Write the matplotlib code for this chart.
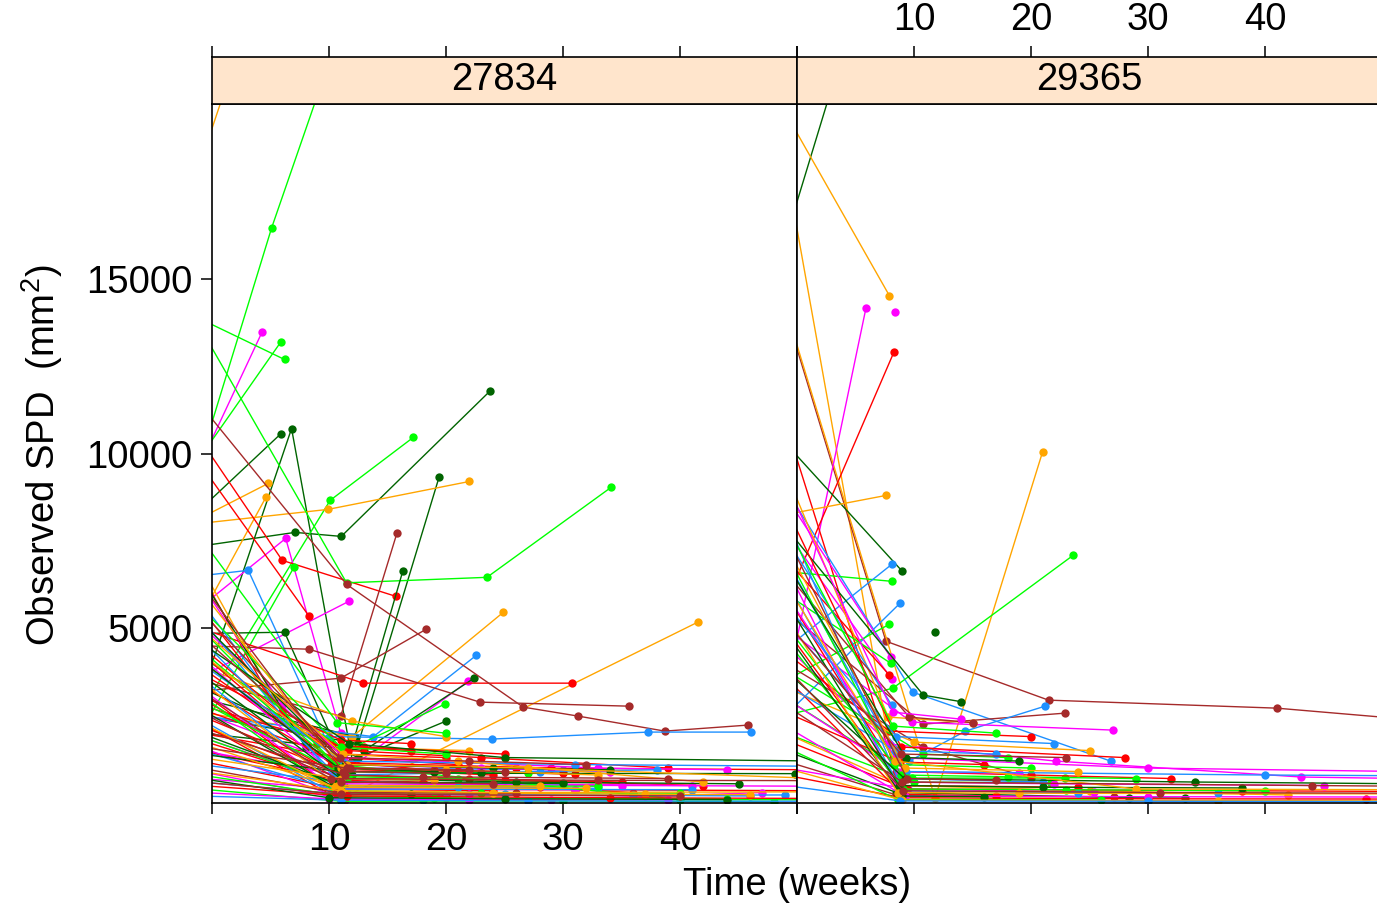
import matplotlib.pyplot as plt

plt.rcParams["font.family"] = ["Liberation Sans", "DejaVu Sans"]
plt.rcParams["mathtext.fontset"] = "custom"
plt.rcParams["mathtext.rm"] = "Liberation Sans"

# subject colours, cycled by subject in the trellis
PALETTE = {"g": "#00FF00", "d": "#006400", "o": "#FFA500", "m": "#FF00FF",
           "r": "#FF0000", "b": "#A52A2A", "u": "#1E90FF"}

SITES = ["27834", "29365"]

# (colour, [(week, SPD mm^2), ...]) per subject; baseline is at week -1
site_27834 = [
    ("g", [(-1, 9800), (5.1, 16460), (10, 21200)]),
    ("o", [(-1, 18300), (4, 23300)]),
    ("m", [(-1, 9700), (4.3, 13490)]),
    ("g", [(-1, 9900), (5.9, 13200)]),
    ("g", [(-1, 13850), (6.2, 12690)]),
    ("d", [(-1, 8400), (5.9, 10570)]),
    ("d", [(-1, 3000), (6.8, 10714), (12, 1200)]),
    ("d", [(-1, 7350), (7.1, 7743), (11.05, 7628), (23.8, 11800)]),
    ("d", [(-1, 2500), (12.5, 1700), (19.4, 9314)]),
    ("g", [(-1, 2600), (10.1, 8660), (17.2, 10460)]),
    ("o", [(-1, 8000), (9.9, 8400), (22.0, 9200)]),
    ("o", [(-1, 8150), (4.8, 9143)]),
    ("o", [(-1, 5300), (4.6, 8743)]),
    ("m", [(-1, 5600), (6.3, 7571), (11, 2000)]),
    ("m", [(-1, 3600), (11.7, 5771)]),
    ("u", [(-1, 6500), (3.1, 6657), (11, 900)]),
    ("r", [(-1, 10400), (6.0, 6943), (15.7, 5914)]),
    ("r", [(-1, 9700), (8.3, 5343)]),
    ("g", [(-1, 2000), (7.0, 6743)]),
    ("g", [(-1, 13600), (11.5, 6300), (23.5, 6457), (34.1, 9029)]),
    ("d", [(-1, 4850), (6.2, 4886), (11, 1300)]),
    ("d", [(-1, 3000), (12.2, 1900), (16.3, 6628)]),
    ("o", [(-1, 2600), (12.0, 1900), (24.9, 5457)]),
    ("o", [(-1, 2300), (11.5, 200), (41.5, 5171)]),
    ("u", [(-1, 2500), (13.8, 1900), (22.6, 4229)]),
    ("m", [(-1, 1500), (11, 800), (21.9, 3486)]),
    ("d", [(-1, 2000), (13, 1500), (22.4, 3571)]),
    ("r", [(-1, 5000), (12.9, 3429), (30.8, 3429)]),
    ("b", [(-1, 11400), (11.5, 6257), (26.6, 2743), (31.3, 2486), (38.7, 2057), (45.8, 2229)]),
    ("b", [(-1, 4500), (8.3, 4400), (22.9, 2886), (35.6, 2771)]),
    ("b", [(-1, 3200), (11.0, 3571), (18.3, 4971)]),
    ("b", [(-1, 3500), (11.0, 2486), (15.8, 7714)]),
    ("u", [(-1, 2500), (10, 1900), (23.9, 1829), (37.3, 2029), (46.1, 2029)]),
    ("g", [(-1, 4200), (11.5, 1500), (19.9, 2829)]),
    ("d", [(-1, 3300), (12.5, 1300), (20.0, 2343)]),
    ("o", [(-1, 3900), (12.0, 2343), (20, 1900)]),
    ("r", [(-1, 6600), (5, 3000), (11, 1400), (20, 1300)]),
    ("m", [(-1, 6300), (6, 2800), (11.5, 900)]),
    ("u", [(-1, 5800), (7, 2200), (12, 1000), (30, 950)]),
    ("o", [(-1, 6800), (6.5, 2300), (11, 1600), (22, 1500)]),
    ("d", [(-1, 6500), (8, 1600), (12, 800)]),
    ("r", [(-1, 5600), (6, 2600), (11, 1800), (17, 1700)]),
    ("g", [(-1, 7600), (10.7, 2300), (20, 2000)]),
    ("r", [(-1, 4500), (9, 1700), (13, 1600), (25, 1400)]),
    ("r", [(-1, 3900), (10.5, 1200), (20, 900), (30, 850)]),
    ("r", [(-1, 3400), (11, 1000), (24, 800)]),
    ("r", [(-1, 3000), (10.8, 800), (22, 700), (35, 600)]),
    ("r", [(-1, 2800), (11.2, 1600), (17, 1500)]),
    ("r", [(-1, 2500), (10.6, 900), (19, 950), (31, 820)]),
    ("r", [(-1, 2200), (11, 700), (25, 650), (42, 500)]),
    ("r", [(-1, 2000), (10.9, 1300), (21, 1100)]),
    ("r", [(-1, 1800), (11.3, 500), (28, 450)]),
    ("r", [(-1, 1500), (10.7, 650), (18, 600), (36, 300)]),
    ("r", [(-1, 1200), (11, 400), (24, 350)]),
    ("r", [(-1, 4300), (10.2, 1100), (26, 1000), (52, 950)]),
    ("r", [(-1, 3700), (11.6, 1500), (23, 1300), (39, 1000)]),
    ("r", [(-1, 3200), (10.4, 400), (31, 380), (52, 350)]),
    ("r", [(-1, 2700), (11.8, 1150), (29, 1000)]),
    ("r", [(-1, 2300), (10.1, 250), (20, 220)]),
    ("m", [(-1, 4200), (11.2, 600), (26, 550), (41, 500)]),
    ("m", [(-1, 3300), (10.9, 300), (22, 250), (37, 200)]),
    ("m", [(-1, 2600), (11, 1100), (23, 1000), (34, 900)]),
    ("m", [(-1, 1600), (10.5, 200), (20, 150)]),
    ("m", [(-1, 900), (11.4, 100), (29, 80), (47, 300)]),
    ("m", [(-1, 700), (11, 400), (31, 380)]),
    ("m", [(-1, 5100), (11.3, 1300), (33, 1000), (44, 950)]),
    ("m", [(-1, 1900), (10.8, 550), (35, 500), (52, 480)]),
    ("u", [(-1, 5300), (11, 500), (21, 450), (33, 420)]),
    ("u", [(-1, 4700), (10.6, 800), (28, 900), (38, 950)]),
    ("u", [(-1, 3600), (11.5, 300), (25, 250), (46, 200)]),
    ("u", [(-1, 2400), (11, 150), (18, 100)]),
    ("u", [(-1, 1100), (10.8, 600), (30, 550)]),
    ("u", [(-1, 600), (11.2, 250), (36, 220), (49, 230)]),
    ("u", [(-1, 4000), (11.1, 1200), (31, 1100), (52, 1050)]),
    ("u", [(-1, 1500), (10.3, 400), (41, 380)]),
    ("g", [(-1, 5600), (11, 1600), (20, 1400)]),
    ("g", [(-1, 4400), (11.3, 900), (27, 850)]),
    ("g", [(-1, 3100), (10.4, 350), (23, 300), (40, 280)]),
    ("g", [(-1, 1900), (11, 500), (33, 480)]),
    ("g", [(-1, 800), (11.1, 200), (19, 150), (44, 120)]),
    ("g", [(-1, 5000), (10.6, 1100), (40, 100), (52, 90)]),
    ("g", [(-1, 2900), (11.6, 750), (21, 700)]),
    ("d", [(-1, 5200), (11.4, 1100), (24, 1000), (34, 950)]),
    ("d", [(-1, 4100), (10.8, 1000), (19, 900)]),
    ("d", [(-1, 3700), (11, 700), (26, 600), (45, 550)]),
    ("d", [(-1, 2700), (11.2, 300), (17, 250)]),
    ("d", [(-1, 1400), (10.9, 900), (23, 850), (49.8, 840)]),
    ("d", [(-1, 4600), (11.7, 1700), (25, 1300), (52, 1200)]),
    ("d", [(-1, 2000), (10.3, 600), (30, 560)]),
    ("o", [(-1, 6100), (11, 1000), (20, 950), (33, 800)]),
    ("o", [(-1, 5000), (11.2, 1400), (21, 1200), (42, 600)]),
    ("o", [(-1, 3500), (10.7, 500), (28, 480)]),
    ("o", [(-1, 2300), (11.3, 300), (37, 250), (46, 240)]),
    ("o", [(-1, 1300), (11, 700), (19, 650)]),
    ("o", [(-1, 4300), (11.5, 1100), (27, 1000), (52, 700)]),
    ("o", [(-1, 1700), (10.5, 450), (32, 420)]),
    ("b", [(-1, 6300), (11.2, 900), (20, 850)]),
    ("b", [(-1, 4800), (10.9, 1300), (22, 1200), (32, 1100)]),
    ("b", [(-1, 3200), (11, 600), (24, 550)]),
    ("b", [(-1, 2100), (11.4, 800), (18, 750), (39, 700)]),
    ("b", [(-1, 1000), (10.6, 300), (26, 280)]),
    ("b", [(-1, 5500), (11.8, 1000), (22, 950)]),
    ("b", [(-1, 2600), (10.2, 700), (33, 650), (52, 640)]),
    ("b", [(-1, 1600), (11.5, 1000), (25, 900)]),
    ("g", [(-1, 400), (11, 50), (30, 60), (48, 40)]),
    ("m", [(-1, 300), (10, 120), (22, 100), (39, 90)]),
    ("u", [(-1, 200), (11, 80), (27, 60), (52, 50)]),
    ("r", [(-1, 500), (11.5, 200), (34, 150), (52, 130)]),
    ("d", [(-1, 700), (10, 150), (25, 120), (44, 100)]),
    ("o", [(-1, 900), (11, 350), (24, 300), (52, 320)]),
    ("b", [(-1, 600), (11, 250), (40, 200)]),
]

site_29365 = [
    ("d", [(-1, 16100), (4, 21600)]),
    ("o", [(-1, 19760), (7.9, 14514)]),
    ("o", [(-1, 18300), (8.7, 150)]),
    ("b", [(-1, 14100), (7.6, 4629), (21.5, 2943), (41, 2714), (52, 2400)]),
    ("o", [(-1, 14200), (11.8, 140), (21, 10057)]),
    ("m", [(-1, 3100), (5.9, 14170)]),
    ("m", [(8.4, 14057)]),
    ("r", [(-1, 5700), (8.3, 12914)]),
    ("r", [(-1, 10900), (8.5, 800)]),
    ("d", [(-1, 10300), (9.0, 6629)]),
    ("o", [(-1, 8250), (7.6, 8800)]),
    ("u", [(-1, 9000), (9.9, 3171), (26.8, 1200)]),
    ("g", [(-1, 6620), (8.1, 6343)]),
    ("u", [(-1, 4400), (8.1, 6829)]),
    ("u", [(-1, 2500), (8.8, 5714)]),
    ("d", [(11.8, 4886)]),
    ("g", [(-1, 3500), (7.9, 5114)]),
    ("g", [(-1, 2500), (8.2, 3286), (23.6, 7086)]),
    ("b", [(-1, 5500), (10.8, 2257), (22.9, 2571)]),
    ("b", [(-1, 4000), (10.8, 1600), (20, 714)]),
    ("u", [(-1, 5200), (9.6, 1200), (14.4, 2057), (21.2, 2771)]),
    ("m", [(-1, 5000), (9.8, 2314), (27, 2086)]),
    ("m", [(-1, 4500), (7.9, 1686), (22.1, 1200), (43.1, 743), (52, 700)]),
    ("g", [(-1, 3000), (9.8, 714), (22.9, 714)]),
    ("g", [(-1, 2000), (10, 600), (21.7, 571)]),
    ("o", [(-1, 2000), (9, 500), (25, 350), (42, 229)]),
    ("d", [(-1, 1500), (8.5, 300), (28.4, 150), (33.2, 140)]),
    ("b", [(-1, 1200), (8.8, 200), (27.1, 180)]),
    ("r", [(-1, 800), (9, 150), (30, 120), (48.6, 114), (52, 110)]),
    ("m", [(-1, 1000), (9.5, 400), (25.4, 314)]),
    ("m", [(-1, 8800), (8.0, 4171)]),
    ("m", [(-1, 7800), (8.1, 3543)]),
    ("r", [(-1, 7000), (7.9, 3657)]),
    ("r", [(-1, 4300), (7.9, 2057), (20, 1900)]),
    ("r", [(-1, 2600), (8.8, 1171), (16, 1100)]),
    ("o", [(-1, 9500), (7.8, 2457), (15, 2300)]),
    ("u", [(-1, 7600), (8.1, 2800)]),
    ("g", [(-1, 6000), (8.0, 4000)]),
    ("b", [(-1, 6600), (9.6, 2457), (15, 2300)]),
    ("g", [(-1, 3800), (10.8, 1400), (18, 1300)]),
    ("o", [(-1, 3300), (10, 1743), (25, 1500)]),
    ("d", [(-1, 7900), (10.8, 3086), (14, 2900)]),
    ("r", [(-1, 6000), (8.5, 900), (20, 800), (32, 700)]),
    ("r", [(-1, 5000), (8.8, 500), (24, 450)]),
    ("r", [(-1, 3600), (9, 250), (17, 200)]),
    ("r", [(-1, 8500), (8.9, 1600), (28, 1300)]),
    ("r", [(-1, 1800), (9.4, 400), (38, 350), (52, 330)]),
    ("m", [(-1, 6800), (8.3, 600), (22, 550), (45, 500)]),
    ("m", [(-1, 3000), (8.7, 900), (19, 850)]),
    ("m", [(-1, 2200), (9.2, 200), (30, 180), (52, 170)]),
    ("m", [(-1, 6000), (8.4, 1300), (30, 1000), (52, 900)]),
    ("m", [(-1, 9200), (8.2, 2600), (14, 2400)]),
    ("u", [(-1, 8200), (8.6, 700), (21, 600)]),
    ("u", [(-1, 6400), (9, 350), (24, 300), (36, 280)]),
    ("u", [(-1, 3400), (8.4, 1500), (17, 1400)]),
    ("u", [(-1, 5700), (8.5, 1900), (22, 1700)]),
    ("u", [(-1, 7000), (9.3, 900), (40, 800), (52, 780)]),
    ("g", [(-1, 7200), (8.9, 800), (18, 750), (29, 700)]),
    ("g", [(-1, 5100), (8.3, 1100), (20, 1000)]),
    ("g", [(-1, 4700), (9.1, 400), (23, 380), (40, 350)]),
    ("g", [(-1, 1600), (8.6, 100), (26, 90)]),
    ("g", [(-1, 8000), (8.2, 2200), (17, 2000)]),
    ("d", [(-1, 6900), (9.3, 1300), (19, 1200)]),
    ("d", [(-1, 5800), (8.7, 500), (21, 450), (38, 430)]),
    ("d", [(-1, 4900), (9, 200), (16, 180)]),
    ("d", [(-1, 3800), (9.2, 700), (34, 600), (52, 550)]),
    ("o", [(-1, 7400), (9.2, 1000), (24, 900)]),
    ("o", [(-1, 5400), (8.6, 300), (19, 280), (52, 260)]),
    ("o", [(-1, 6300), (8.4, 1200), (29, 400), (52, 380)]),
    ("b", [(-1, 7700), (9.4, 700), (17, 650)]),
    ("b", [(-1, 5200), (8.9, 1400), (23, 1300)]),
    ("b", [(-1, 3900), (9.1, 350), (31, 300), (52, 280)]),
    ("b", [(-1, 2800), (9.0, 600), (44, 500), (52, 480)]),
    ("o", [(-1, 1000), (9, 80), (36, 70), (52, 60)]),
    ("u", [(-1, 500), (8.8, 60), (30, 50), (52, 40)]),
]

XTICKS = [0, 10, 20, 30, 40, 50]
XTICK_LABELS = ["", "10", "20", "30", "40", ""]
YTICKS = [5000, 10000, 15000]

W, H = 1377, 908
FS = 27.5
fig = plt.figure(figsize=(W / 100, H / 100), dpi=100)


def box(x0, y0, w, h):
    # pixel box measured from the top-left corner -> figure fraction
    return [x0 / W, 1 - (y0 + h) / H, w / W, h / H]


panel_w = 585
for i, (name, subjects) in enumerate(zip(SITES, [site_27834, site_29365])):
    x0 = 212 + i * panel_w
    ax = fig.add_axes(box(x0, 104, panel_w, 699))
    for code, pts in subjects:
        t = [p[0] for p in pts]
        y = [p[1] for p in pts]
        ax.plot(t, y, color=PALETTE[code], lw=1.0, marker="o", ms=6, mew=0)
    ax.set_xlim(0, 50)
    ax.set_ylim(0, 20000)
    ax.set_xticks(XTICKS)
    ax.set_yticks(YTICKS)
    ax.tick_params(axis="both", direction="out", length=8, width=1.1,
                   labelsize=FS, pad=6, top=False, right=False)
    if i == 0:
        ax.set_xticklabels(XTICK_LABELS)
        ax.set_yticklabels([str(v) for v in YTICKS])
    else:
        ax.tick_params(labelbottom=False, left=False, labelleft=False)
    for sp in ax.spines.values():
        sp.set_linewidth(1.2)

    strip = fig.add_axes(box(x0, 57, panel_w, 47))
    strip.set_facecolor("#FFE5CC")
    strip.set_xlim(0, 50)
    strip.set_ylim(0, 1)
    strip.set_yticks([])
    strip.set_xticks(XTICKS)
    strip.tick_params(axis="x", direction="out", length=8, width=1.1, labelsize=FS,
                      pad=6, bottom=False, labelbottom=False, top=True,
                      labeltop=(i == 1))
    if i == 1:
        strip.set_xticklabels(XTICK_LABELS)
    for sp in strip.spines.values():
        sp.set_linewidth(1.2)
    strip.text(25, 0.5, name, ha="center", va="center", fontsize=FS)

fig.text(797 / W, 1 - 885 / H, "Time (weeks)", ha="center", va="center", fontsize=FS)
fig.text(42 / W, 1 - 455 / H, r"Observed SPD  (mm$\mathregular{^2}$)",
         ha="center", va="center", rotation=90, fontsize=FS)

fig.savefig("out.png", dpi=100)
